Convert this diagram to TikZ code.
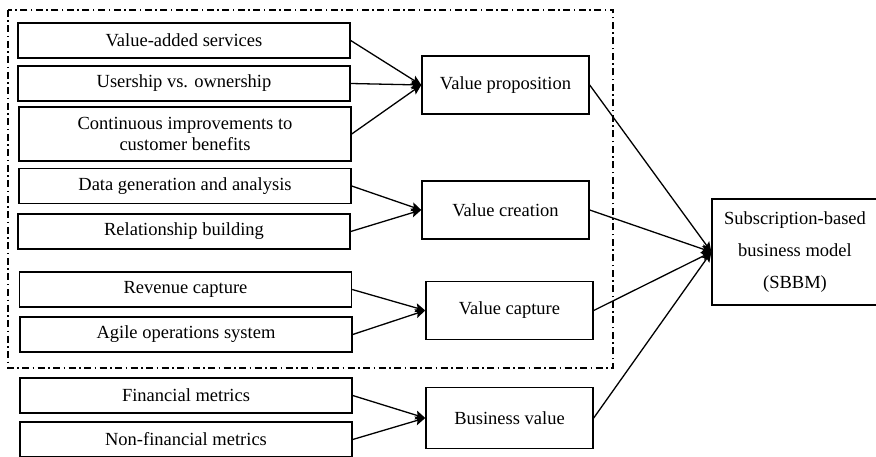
\documentclass[tikz,border=0pt]{standalone}
\usepackage{fontspec}
\setmainfont{Liberation Serif}
\usetikzlibrary{arrows.meta,positioning}

\tikzset{
  factor/.style={draw,line width=1.4pt,minimum width=332pt,minimum height=35pt,
    inner sep=0pt,align=center},
  element/.style={draw,line width=1.4pt,minimum width=167pt,minimum height=58pt,
    inner sep=0pt,align=center},
  link/.style={line width=1.3pt,-{Stealth[length=10pt,width=9pt,inset=2pt]}}
}

\begin{document}
\begin{tikzpicture}
[x=1pt,y=-1pt,font=\fontsize{18.5}{21}\selectfont]
\useasboundingbox (0,0) rectangle (876,457);
% group box
\draw[line width=1.2pt,dash pattern=on 7pt off 3.5pt on 1.5pt off 3.5pt] (8,10) rectangle (613,368);
% left column
 \node[factor] (vas) at (184,40.5) {Value-added services};
 \node[factor] (own) at (184,83.5) {Usership vs. ownership};
 \node[factor,minimum height=54pt] (imp) at (185,134) {Continuous improvements to\\customer benefits};
 \node[factor] (data) at (185,186) {Data generation and analysis};
 \node[factor] (rel) at (184,231.5) {Relationship building};
 \node[factor] (rev) at (185.5,289.5) {Revenue capture};
 \node[factor] (agile) at (186,334.5) {Agile operations system};
 \node[factor] (fin) at (186,395.5) {Financial metrics};
 \node[factor] (nonfin) at (186,439.5) {Non-financial metrics};
% middle column
 \node[element] (prop) at (505.5,85) {Value proposition};
 \node[element] (creat) at (505.5,210) {Value creation};
 \node[element] (capt) at (509.5,310.5) {Value capture};
 \node[element,minimum height=61pt] (bval) at (509.5,418) {Business value};
% right
 \node[draw,line width=1.2pt,minimum width=166pt,minimum height=106pt,
   align=center,font=\fontsize{18.5}{32}\selectfont] (sbbm) at (795,252)
   {Subscription-based\\business model\\(SBBM)};
% connectors
 \foreach \a in {vas,own,imp} \draw[link] (\a.east) -- (prop.west);
 \foreach \a in {data,rel} \draw[link] (\a.east) -- (creat.west);
 \foreach \a in {rev,agile} \draw[link] (\a.east) -- (capt.west);
 \foreach \a in {fin,nonfin} \draw[link] (\a.east) -- (bval.west);
 \foreach \a in {prop,creat,capt,bval} \draw[link] (\a.east) -- (sbbm.west);
\end{tikzpicture}
\end{document}
